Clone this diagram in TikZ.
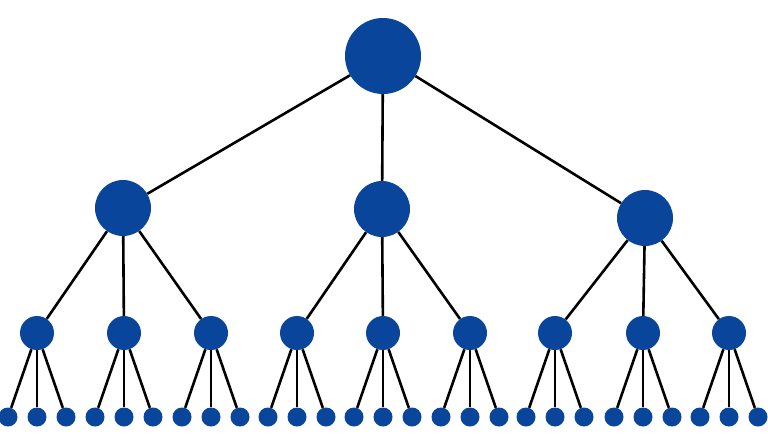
\documentclass[tikz,border=0pt]{standalone}
\definecolor{treeblue}{RGB}{8,69,155}
\begin{document}
\begin{tikzpicture}[x=1pt,y=-1pt]
        \tikzstyle{every node}=[circle,fill=treeblue,draw=none,inner sep=0pt]
        \tikzstyle{edge}=[line width=2.6pt,black]
        \useasboundingbox (0,0) rectangle (768,447);

        \node[minimum size=76pt] (root) at (383,56) {};

        \foreach \name/\x/\y in {a/123/208, b/382/209, c/645/218} {
            \node[minimum size=56pt] (\name) at (\x,\y) {};
            \draw[edge] (root) -- (\name);
        }

        \foreach \p/\k/\x in {a/1/37, a/2/124, a/3/211,
                              b/1/297, b/2/383, b/3/470,
                              c/1/555, c/2/643, c/3/729} {
            \node[minimum size=34pt] (\p\k) at (\x,333) {};
            \draw[edge] (\p) -- (\p\k);
            \foreach \j/\o in {1/-29, 2/0, 3/29} {
                \node[minimum size=19pt] (\p\k-\j) at ({\x+\o},417) {};
                \draw[edge] (\p\k) -- (\p\k-\j);
            }
        }
    \end{tikzpicture}
\end{document}
